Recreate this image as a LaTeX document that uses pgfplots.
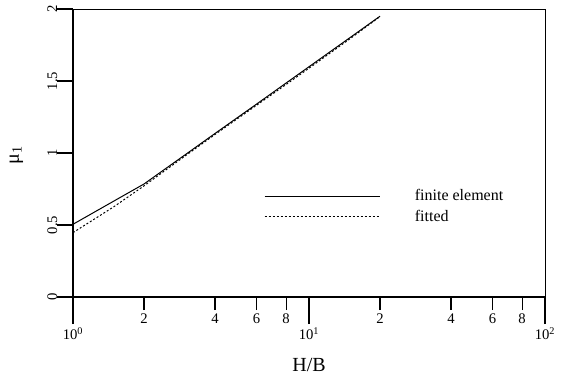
\documentclass[border=0pt]{standalone}
\usepackage{fontspec}
\setmainfont{Liberation Serif}
\usepackage{pgfplots}
\pgfplotsset{compat=1.18}
\pgfplotstableread{
x y
1 0.505
1.5 0.669
2 0.785
3 0.99
4 1.136
6 1.34
8 1.486
10 1.599
15 1.804
20 1.95
}\fem
\pgfplotstableread{
x y
1 0.447
1.5 0.63
2 0.772
3 0.982
4 1.129
6 1.332
8 1.476
10 1.589
15 1.796
20 1.948
}\fit
\pgfplotsset{
  base/.style={
    at={(54.75pt,61.5pt)}, anchor=south west,
    scale only axis, width=354pt, height=216pt,
    xmin=1, xmax=100, ymin=0, ymax=2,
    axis line style={line width=0.75pt},
    tick align=outside,
    xtick pos=bottom, ytick pos=left,
    xminorticks=false, yminorticks=false,
  }
}
\begin{document}
\begin{tikzpicture}
\useasboundingbox (0,0) rectangle (429pt,284.25pt);
% x decade ticks
\begin{semilogxaxis}[base,
  ytick=\empty,
  xtick={1,10,100},
  xtick style={line width=0.9pt, black},
  xticklabels={10\textsuperscript{0},10\textsuperscript{1},10\textsuperscript{2}},
  major tick length=20.25pt,
  xticklabel style={font=\fontsize{11}{13}\selectfont, anchor=base, yshift=-11.5pt},
  xlabel={H/B},
  xlabel style={font=\fontsize{15}{17}\selectfont, at={(axis description cs:0.5,-0.257)}, anchor=base},
]
\end{semilogxaxis}
% x minor labelled ticks
\begin{semilogxaxis}[base,
  ytick=\empty,
  xtick={2,4,6,8,20,40,60,80},
  xtick style={line width=0.9pt, black},
  xticklabels={2,4,6,8,2,4,6,8},
  major tick length=9.75pt,
  xticklabel style={font=\fontsize{11}{13}\selectfont, anchor=base, yshift=-9.75pt},
]
\end{semilogxaxis}
% main axis
\begin{semilogxaxis}[base,
  xtick=\empty,
  ytick={0,0.5,1,1.5,2},
  ytick style={line width=0.9pt, black},
  major tick length=12pt,
  /pgf/number format/assume math mode=true,
  yticklabel style={font=\fontsize{11}{13}\selectfont, rotate=90, anchor=base},
  ylabel={μ\textsubscript{1}},
  ylabel style={font=\fontsize{15}{17}\selectfont, at={(axis description cs:-0.12,0.493)}, anchor=center},
  legend style={draw=none, fill=none, at={(0.396,0.392)}, anchor=north west,
    font=\fontsize{12}{14}\selectfont, row sep=1.25pt, column sep=0pt},
  legend cell align=left,
  legend image code/.code={\draw[#1] (0pt,0pt) -- (86.25pt,0pt);},
]
\addplot[black, line width=0.75pt] table {\fem};
\addlegendentry{\hspace{24pt}finite element}
\addplot[black, line width=0.75pt, dash pattern=on 1.5pt off 1.5pt] table {\fit};
\addlegendentry{\hspace{24pt}fitted}
\end{semilogxaxis}
\end{tikzpicture}
\end{document}
